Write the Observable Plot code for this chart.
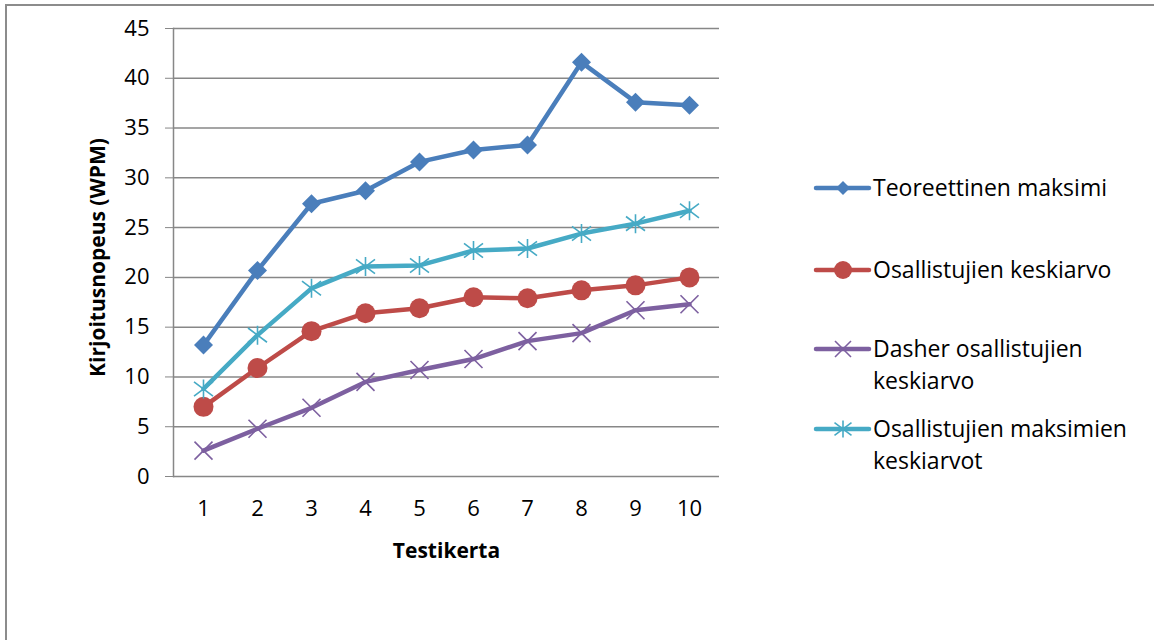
<!DOCTYPE html>
<html>
<head>
<meta charset="utf-8">
<script src="https://cdn.jsdelivr.net/npm/d3@7"></script>
<script src="https://cdn.jsdelivr.net/npm/@observablehq/plot@0.6"></script>
<style>
  html, body { margin: 0; padding: 0; background: #fff; }
  #wrap { position: relative; width: 1154px; height: 640px; overflow: hidden; font-family: "Open Sans", sans-serif; }
  #border { position: absolute; left: 5px; top: 4px; width: 2000px; height: 2000px;
            border-top: 2px solid #8c8c8c; border-left: 2px solid #8c8c8c; box-sizing: border-box; }
  #chart { position: absolute; left: 0; top: 0; }
  .swatch { position: absolute; left: 813px; }
  .label { position: absolute; left: 873px; font-size: 23px; line-height: 31.5px; color: #000; white-space: nowrap; }
</style>
</head>
<body>
<div id="wrap">
  <div id="border"></div>
  <div id="chart"></div>
  <div id="legend"></div>
</div>
<script>
// Test runs (x axis)
const runs = [1, 2, 3, 4, 5, 6, 7, 8, 9, 10];

// Typing speed per run, words per minute
const teoreettinenMaksimi = [13.2, 20.7, 27.4, 28.7, 31.6, 32.8, 33.3, 41.6, 37.6, 37.3];
const osallistujienKeskiarvo = [7.0, 10.9, 14.6, 16.4, 16.9, 18.0, 17.9, 18.7, 19.2, 20.0];
const dasherKeskiarvo = [2.6, 4.8, 6.9, 9.5, 10.7, 11.8, 13.6, 14.4, 16.7, 17.3];
const maksimienKeskiarvot = [8.8, 14.2, 18.9, 21.1, 21.2, 22.7, 22.9, 24.4, 25.4, 26.7];

// Y axis ticks
const yTicks = [0, 5, 10, 15, 20, 25, 30, 35, 40, 45];

// Marker shapes
const diamond = {
  draw(ctx, size) {
    const r = Math.sqrt(size / Math.PI);
    ctx.moveTo(0, -r); ctx.lineTo(r, 0); ctx.lineTo(0, r); ctx.lineTo(-r, 0); ctx.closePath();
  }
};
const cross = {
  draw(ctx, size) {
    const r = Math.sqrt(size / Math.PI);
    ctx.moveTo(-r, -r); ctx.lineTo(r, r);
    ctx.moveTo(-r, r); ctx.lineTo(r, -r);
  }
};
const star = {
  draw(ctx, size) {
    const r = Math.sqrt(size / Math.PI);
    ctx.moveTo(-r, -r * 0.75); ctx.lineTo(r, r * 0.75);
    ctx.moveTo(-r, r * 0.75); ctx.lineTo(r, -r * 0.75);
    ctx.moveTo(0, -r); ctx.lineTo(0, r);
  }
};

const series = [
  {name: "Teoreettinen maksimi", label: "Teoreettinen maksimi", values: teoreettinenMaksimi,
   color: "#4a7ebb", symbol: diamond, r: 9.5, filled: true, legendR: 7},
  {name: "Osallistujien keskiarvo", label: "Osallistujien keskiarvo", values: osallistujienKeskiarvo,
   color: "#be4b48", symbol: "circle", r: 10, filled: true, legendR: 9},
  {name: "Dasher osallistujien keskiarvo", label: "Dasher osallistujien<br>keskiarvo", values: dasherKeskiarvo,
   color: "#7d60a0", symbol: cross, r: 9, filled: false, legendR: 8},
  {name: "Osallistujien maksimien keskiarvot", label: "Osallistujien maksimien<br>keskiarvot", values: maksimienKeskiarvot,
   color: "#46aac5", symbol: star, r: 9.5, filled: false, legendR: 8.5}
];

const seriesMarks = series.flatMap(s => {
  const data = runs.map((run, i) => ({run, value: s.values[i], series: s.name}));
  return [
    Plot.line(data, {x: "run", y: "value", stroke: s.color, strokeWidth: 4.5, strokeLinejoin: "round", strokeLinecap: "round"}),
    Plot.dot(data, {
      x: "run", y: "value", symbol: s.symbol, r: s.r,
      fill: s.filled ? s.color : "none",
      stroke: s.color,
      strokeWidth: s.filled ? 0 : 1.6
    })
  ];
});

const chart = Plot.plot({
  width: 1154,
  height: 640,
  marginLeft: 173,
  marginRight: 435,
  marginTop: 28,
  marginBottom: 164,
  style: {fontFamily: "'Open Sans', sans-serif", background: "transparent"},
  x: {type: "point", domain: runs, padding: 0.5},
  y: {domain: [0, 45]},
  marks: [
    Plot.gridY(yTicks, {stroke: "#878787", strokeOpacity: 1, strokeWidth: 1.5}),
    Plot.frame({anchor: "left", stroke: "#878787", strokeWidth: 1.5}),
    Plot.axisY(yTicks, {tickSize: 8, tickPadding: 16, fontSize: 22, stroke: "#878787", fill: "#000", label: null}),
    Plot.axisX({tickSize: 0, tickPadding: 24, fontSize: 22, fill: "#000", label: null}),
    Plot.text(["Kirjoitusnopeus (WPM)"], {frameAnchor: "left", dx: -75, dy: 5, rotate: -90,
      textAnchor: "middle", lineAnchor: "middle", fontWeight: "bold", fontSize: 21, fill: "#000"}),
    Plot.text(["Testikerta"], {frameAnchor: "bottom", dy: 75,
      textAnchor: "middle", lineAnchor: "middle", fontWeight: "bold", fontSize: 21, fill: "#000"}),
    ...seriesMarks
  ]
});
document.getElementById("chart").append(chart);

// Legend: swatch (line + marker) and label for each series
const legend = document.getElementById("legend");
const rowCenters = [188, 270, 349, 429];
series.forEach((s, i) => {
  const cy = rowCenters[i];
  const sw = d3.create("svg").attr("class", "swatch")
    .attr("width", 60).attr("height", 24)
    .style("top", (cy - 12) + "px");
  sw.append("line").attr("x1", 3).attr("x2", 56).attr("y1", 12).attr("y2", 12)
    .attr("stroke", s.color).attr("stroke-width", 4.5).attr("stroke-linecap", "round");
  const sym = typeof s.symbol === "string" ? d3.symbolCircle : s.symbol;
  sw.append("path")
    .attr("transform", "translate(30,12)")
    .attr("d", d3.symbol(sym, Math.PI * s.legendR * s.legendR)())
    .attr("fill", s.filled ? s.color : "none")
    .attr("stroke", s.color)
    .attr("stroke-width", s.filled ? 0 : 1.6);
  legend.append(sw.node());
  const lab = document.createElement("div");
  lab.className = "label";
  lab.style.top = (cy - 15.75) + "px";
  lab.innerHTML = s.label;
  legend.append(lab);
});
</script>
</body>
</html>
